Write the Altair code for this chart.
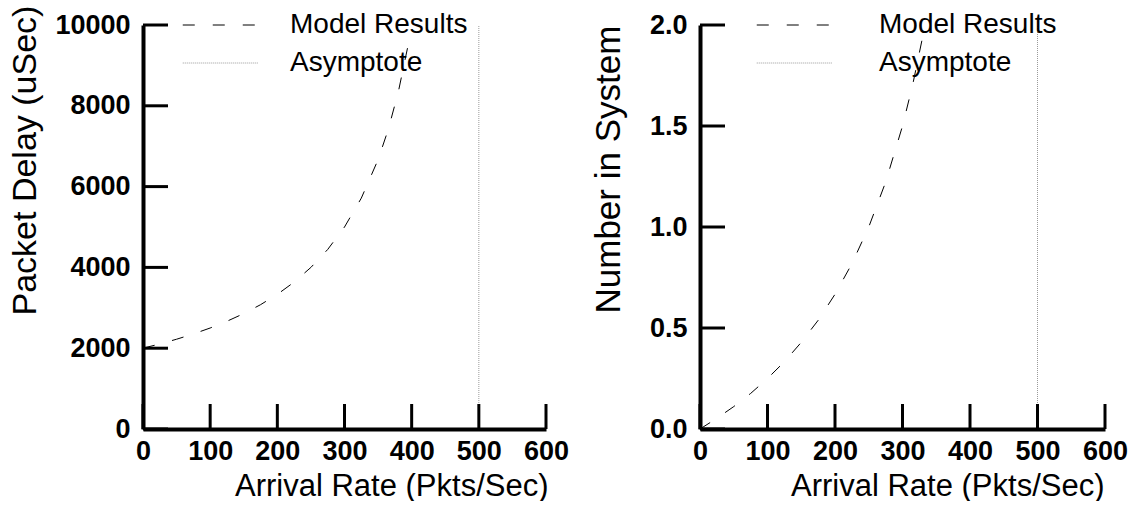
import altair as alt
import pandas as pd

# ---- data ----
rate_delay = [0, 25, 50, 75, 100, 125, 150, 175, 200, 225, 250, 275, 300, 325, 350, 365, 380, 395]
delay_us = [2000, 2105, 2222, 2353, 2500, 2667, 2857, 3077, 3333, 3636, 4000, 4444, 5000, 5714,
            6667, 7407, 8333, 9524]
rate_num = [0, 25, 50, 75, 100, 125, 150, 175, 200, 225, 250, 275, 300, 315, 331]
num_sys = [0, 0.053, 0.111, 0.176, 0.25, 0.333, 0.429, 0.538, 0.667, 0.818, 1.0, 1.222, 1.5,
           1.703, 1.959]
asymptote_rate = [500]
x_ticks = [0, 100, 200, 300, 400, 500, 600]
delay_ticks = [0, 2000, 4000, 6000, 8000, 10000]
num_ticks = [0, 0.5, 1.0, 1.5, 2.0]
series = ["Model Results", "Asymptote"]

FONT = "Liberation Sans"
H = 404


def make_legend(legx, laboff):
    return alt.Legend(orient="none", legendX=legx, legendY=-14, title=None,
                      symbolType="stroke", symbolSize=5700, symbolStrokeWidth=1,
                      labelFontSize=28, labelFont=FONT, labelColor="black",
                      labelOffset=laboff, labelLimit=500, clipHeight=28, rowPadding=10)


def panel(xs, ys, ymax, yticks, ytitle, ylabfmt, width, legx, laboff, titlex, ytitlex, ytitley,
          ytitlesize):
    curve = pd.DataFrame({"rate": xs, "val": ys, "series": series[0]})
    asym = pd.DataFrame({"rate": asymptote_rate, "val": [0], "top": [ymax], "series": series[1]})
    xt = pd.DataFrame({"rate": x_ticks})
    yt = pd.DataFrame({"val": yticks})

    xscale = alt.Scale(domain=[0, 600], nice=False)
    yscale = alt.Scale(domain=[0, ymax], nice=False)
    xaxis = alt.Axis(values=x_ticks, format="d", titleX=titlex, titleY=66, titleAlign="right",
                     titleBaseline="alphabetic", labelPadding=9, labelFontWeight=700)
    yaxis = alt.Axis(values=yticks, format=ylabfmt, titleX=ytitlex, titleY=ytitley,
                     titleAlign="left", titleBaseline="alphabetic", titleAngle=270,
                     titleFontSize=ytitlesize, labelPadding=13, labelFontWeight=700)
    xtitle = "Arrival Rate (Pkts/Sec)"

    color = alt.Color("series:N", scale=alt.Scale(domain=series, range=["#000000", "#9a9a9a"]),
                      legend=make_legend(legx, laboff))
    dash = alt.StrokeDash("series:N", scale=alt.Scale(domain=series, range=[[12, 18], [1, 1]]),
                          legend=make_legend(legx, laboff))

    line = alt.Chart(curve).mark_line(strokeWidth=1).encode(
        x=alt.X("rate:Q", scale=xscale, axis=xaxis, title=xtitle),
        y=alt.Y("val:Q", scale=yscale, axis=yaxis, title=ytitle),
        color=color, strokeDash=dash,
    )
    rule = alt.Chart(asym).mark_rule(strokeWidth=1).encode(
        x=alt.X("rate:Q", scale=xscale, title=xtitle),
        y=alt.Y("val:Q", scale=yscale, title=ytitle),
        y2="top:Q",
        color=color, strokeDash=dash,
    )
    xtick = alt.Chart(xt).mark_rule(strokeWidth=3, color="black").encode(
        x=alt.X("rate:Q", scale=xscale, title=xtitle),
        y=alt.value(H), y2=alt.value(H - 25),
    )
    ytick = alt.Chart(yt).mark_rule(strokeWidth=3, color="black").encode(
        y=alt.Y("val:Q", scale=yscale, title=ytitle),
        x=alt.value(0), x2=alt.value(25),
    )
    return alt.layer(rule, line, xtick, ytick).properties(width=width, height=H)


left = panel(rate_delay, delay_us, 10000, delay_ticks, "Packet Delay (uSec)", "d", 403,
             39, 31, 405, -108, 290, 34)
right = panel(rate_num, num_sys, 2.0, num_ticks, "Number in System", ".1f", 405,
              56, 46, 404, -81, 288, 35)

chart = alt.hconcat(left, right, spacing=21).resolve_scale(
    color="independent", strokeDash="independent", x="independent", y="independent"
).properties(
    padding={"left": 7, "top": 5, "right": 0, "bottom": 0},
    background="white",
).configure_view(stroke=None).configure_axis(
    domainWidth=4, domainColor="black", ticks=False, grid=False,
    labelFont=FONT, labelFontWeight="bold", labelFontSize=27, labelColor="black",
    labelFlush=False, labelOverlap=False,
    titleFont=FONT, titleFontSize=31, titleFontWeight="normal", titleColor="black",
)

chart.save("out.html", embed_options={"renderer": "svg", "actions": False})
